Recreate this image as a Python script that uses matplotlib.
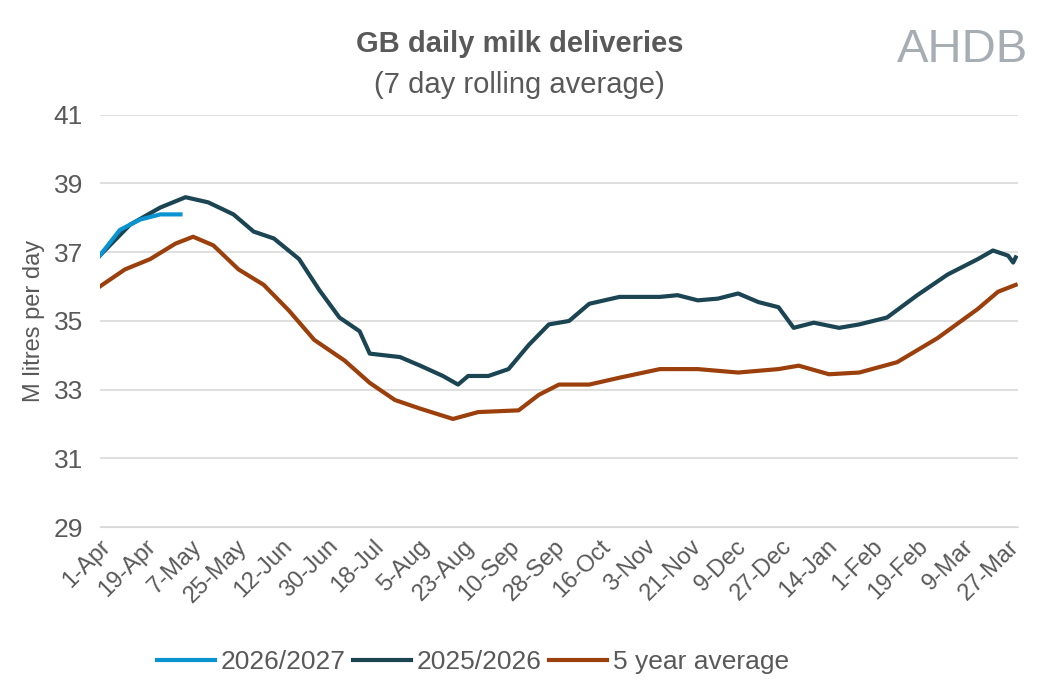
import matplotlib
matplotlib.use("Agg")
import matplotlib.pyplot as plt
import numpy as np

# day index from 1-Apr
d_2627 = [0, 8, 16, 24, 32]
v_2627 = [36.9, 37.65, 37.95, 38.1, 38.1]

d_2526 = [0, 12, 24, 34, 43, 53, 61, 69, 79, 87, 95, 103, 107, 119, 127, 136, 142, 146, 154,
          162, 170, 178, 186, 194, 206, 222, 229, 237, 245, 253, 261, 269, 275, 283, 293, 301,
          312, 324, 336, 348, 354, 360, 362, 363]
v_2526 = [36.9, 37.8, 38.3, 38.6, 38.45, 38.1, 37.6, 37.4, 36.8, 35.9, 35.1, 34.7, 34.05, 33.95,
          33.7, 33.4, 33.15, 33.4, 33.4, 33.6, 34.3, 34.9, 35.0, 35.5, 35.7, 35.7, 35.75, 35.6,
          35.65, 35.8, 35.55, 35.4, 34.8, 34.95, 34.8, 34.9, 35.1, 35.75, 36.35, 36.8, 37.05,
          36.9, 36.7, 36.85]

d_avg = [0, 10, 20, 30, 37, 45, 55, 65, 75, 85, 97, 107, 117, 127, 140, 150, 166, 174, 182,
         194, 206, 222, 237, 253, 269, 277, 289, 301, 316, 332, 348, 356, 363]
v_avg = [36.0, 36.5, 36.8, 37.25, 37.45, 37.2, 36.5, 36.05, 35.3, 34.45, 33.85, 33.2, 32.7,
         32.45, 32.15, 32.35, 32.4, 32.85, 33.15, 33.15, 33.35, 33.6, 33.6, 33.5, 33.6, 33.7,
         33.45, 33.5, 33.8, 34.5, 35.35, 35.85, 36.05]

tick_labels = ["1-Apr", "19-Apr", "7-May", "25-May", "12-Jun", "30-Jun", "18-Jul", "5-Aug",
               "23-Aug", "10-Sep", "28-Sep", "16-Oct", "3-Nov", "21-Nov", "9-Dec", "27-Dec",
               "14-Jan", "1-Feb", "19-Feb", "9-Mar", "27-Mar"]

plt.rcParams['font.family'] = ['Liberation Sans', 'DejaVu Sans']
fig = plt.figure(figsize=(10.39, 6.91), dpi=100)
ax = fig.add_axes([0.096, 0.237, 0.884, 0.597])

ax.plot(d_2627, v_2627, color="#0a93d1", lw=3, label="2026/2027", zorder=3)
ax.plot(d_2526, v_2526, color="#1b4552", lw=3, label="2025/2026")
ax.plot(d_avg, v_avg, color="#9b3f0c", lw=3, label="5 year average")

ax.set_xlim(0, 364)
ax.set_ylim(29, 41)
ax.set_yticks(range(29, 42, 2))
ax.set_xticks(np.arange(0, 361, 18))
ax.set_xticklabels(tick_labels, rotation=45, ha="right", rotation_mode="anchor")
ax.tick_params(axis="x", labelsize=17, colors="#595959", length=0, pad=6)
ax.tick_params(axis="y", labelsize=19, colors="#595959", length=0, pad=12)
ax.grid(axis="y", color="#d9d9d9", lw=1.2)
for s in ["top", "right", "left"]:
    ax.spines[s].set_visible(False)
ax.spines["bottom"].set_color("#d9d9d9")
ax.set_ylabel("M litres per day", fontsize=17, color="#595959", labelpad=6)

fig.text(0.5, 0.925, "GB daily milk deliveries", ha="center", fontsize=21,
         fontweight="bold", color="#595959")
fig.text(0.5, 0.865, "(7 day rolling average)", ha="center", fontsize=21, color="#595959")
fig.text(0.99, 0.91, "AHDB", ha="right", fontsize=34, color="#a6aeb4")

fig.legend(loc="lower center", bbox_to_anchor=(0.455, -0.01), ncol=3, frameon=False,
           fontsize=19, handlelength=2.2, columnspacing=0.3, handletextpad=0.2,
           labelcolor="#595959")

fig.savefig("out.png")
